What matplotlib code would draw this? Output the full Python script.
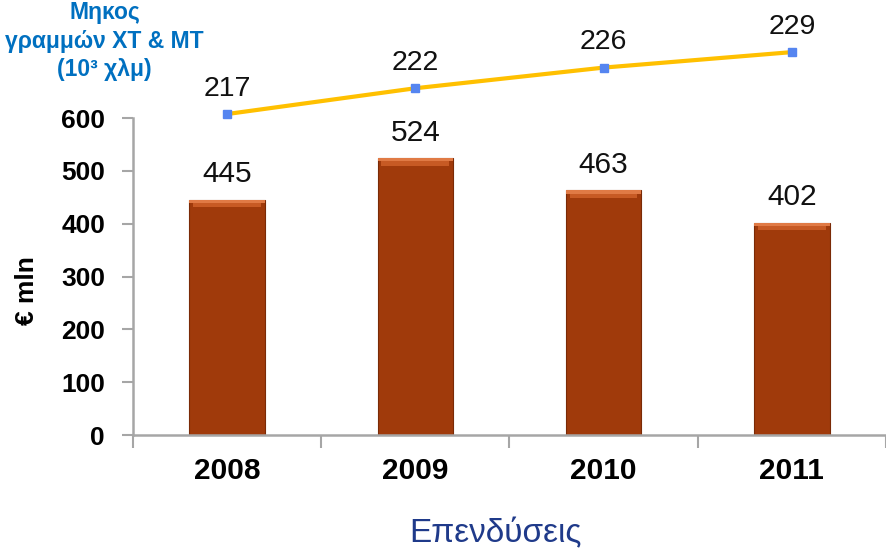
import matplotlib.pyplot as plt
import numpy as np

years = ['2008', '2009', '2010', '2011']
investments = [445, 524, 463, 402]      # € mln
network_length = [217, 222, 226, 229]   # 10^3 km

plt.rcParams['font.family'] = ['Liberation Sans', 'DejaVu Sans']

fig = plt.figure(figsize=(8.86, 5.5), dpi=100)
ax = fig.add_axes([0.150, 0.209, 0.850, 0.791])

x = np.arange(len(years))
bar_w = 0.4
ax.bar(x, investments, width=bar_w, color='#A03A0B', edgecolor='#7A2A06',
       linewidth=0.8, zorder=2)
# bevel look at the top of each bar
inv = np.array(investments)
ax.bar(x, [6] * len(x), bottom=inv - 6, width=bar_w,
       color='#E07A45', edgecolor='none', zorder=3)
ax.bar(x, [8] * len(x), bottom=inv - 14, width=bar_w * 0.9,
       color='#C75A24', edgecolor='none', zorder=3)

for xi, v in zip(x, investments):
    ax.text(xi, v + 22, str(v), ha='center', va='bottom', fontsize=21.5, color='#111111')

ax.set_xlim(-0.5, 3.5)
ax.set_ylim(0, 600 * 435 / 317)
ax.set_yticks(range(0, 601, 100))
ax.set_xticks(x)
ax.set_xticklabels(years, fontsize=21.5, fontweight='bold')
ax.set_xticks(np.arange(-0.5, 3.6, 1), minor=True)
ax.tick_params(axis='x', which='major', length=0, pad=16)
ax.tick_params(axis='x', which='minor', length=9, width=1.5, color='#A6A6A6', direction='out')
ax.tick_params(axis='y', length=8, width=1.5, color='#A6A6A6', labelsize=19, pad=12)
for lbl in ax.get_yticklabels():
    lbl.set_fontweight('bold')

for s in ['top', 'right']:
    ax.spines[s].set_visible(False)
ax.spines['left'].set_bounds(0, 600)
ax.spines['left'].set_color('#A6A6A6')
ax.spines['left'].set_linewidth(1.8)
ax.spines['bottom'].set_color('#A6A6A6')
ax.spines['bottom'].set_linewidth(1.8)

ax.set_ylabel('€ mln', fontsize=19, fontweight='bold')
ax.yaxis.set_label_coords(-0.125, 0.333)

# line on a hidden secondary axis
ax2 = ax.twinx()
ax2.set_ylim(154.8, 239.1)
ax2.plot(x, network_length, color='#FFC000', linewidth=3, zorder=4)
ax2.plot(x, network_length, linestyle='none', marker='s', markersize=6,
         color='#5585F0', zorder=5)
for xi, v in zip(x, network_length):
    ax2.text(xi, v + 2.4, str(v), ha='center', va='bottom', fontsize=20.5, color='#111111')
ax2.axis('off')

fig.text(0.118, 0.925, 'Μηκος\nγραμμών ΧΤ & ΜΤ\n(10³ χλμ)', ha='center', va='center',
         fontsize=16.5, fontweight='bold', color='#0070C0', linespacing=1.3)

fig.text(0.559, 0.03, 'Επενδύσεις', ha='center', va='center', fontsize=24,
         color='#1F3A8A')

fig.savefig('out.png', dpi=100)
